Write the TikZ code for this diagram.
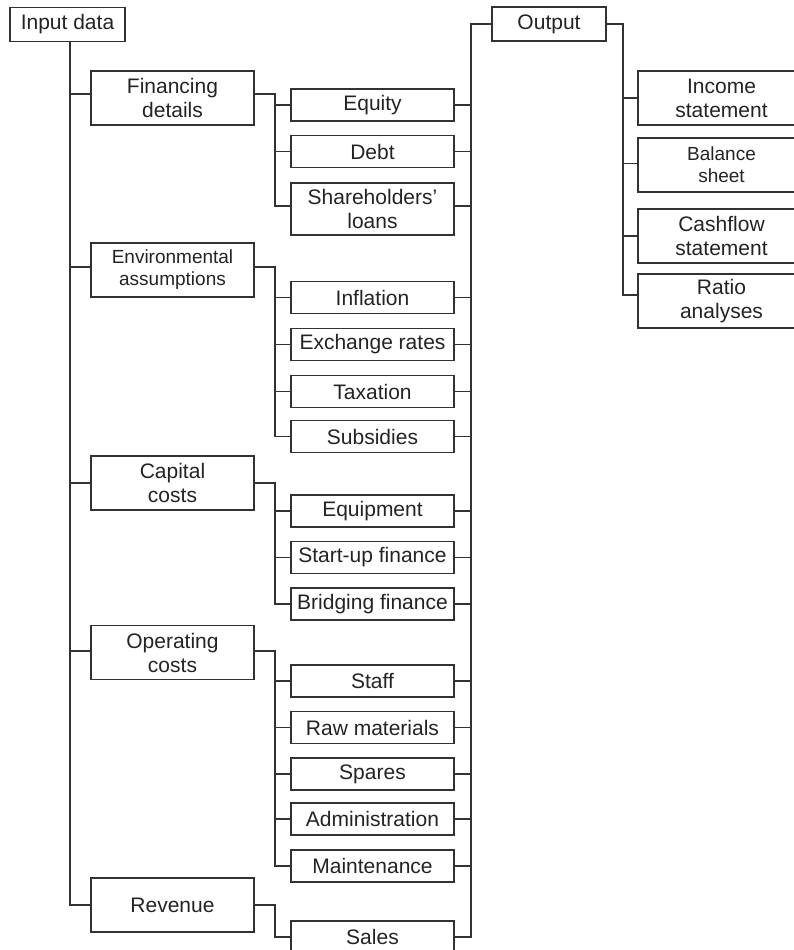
\documentclass[tikz,border=0pt]{standalone}
\usepackage{fontspec}
\setmainfont{Liberation Sans}
\definecolor{linec}{RGB}{50,50,50}
\definecolor{textc}{RGB}{35,35,35}
\newcommand\mainf{\fontsize{21}{24}\selectfont}
\newcommand\smf{\fontsize{19}{22}\selectfont}
\begin{document}
\begin{tikzpicture}[x=1pt,y=-1pt,
  box/.style={draw=linec, line width=1.35pt, minimum width=163pt, minimum height=32pt,
    inner sep=0pt, align=center, font=\mainf, text=textc},
  tall/.style={minimum height=54pt},
  conn/.style={draw=linec, line width=1.35pt}]
\useasboundingbox (0,0) rectangle (794,950);
\clip (0,0) rectangle (794,950);
% coordinates of the vertical rails
\coordinate (sp) at (70,0);
\coordinate (br) at (275,0);
\coordinate (rr) at (471,0);
\coordinate (oo) at (623,0);
% top nodes
\node[box, minimum width=115pt, minimum height=34pt] (input) at (67.5,24.5) {Input data};
\node[box, minimum width=114pt, minimum height=34pt] (out) at (549,24) {Output};
% level 1
\node[box, tall] (fin) at (172.5,98) {Financing\\details};
\node[box, tall, font=\smf] (env) at (172.5,270) {Environmental\\assumptions};
\node[box, tall] (cap) at (172.5,483) {Capital\\costs};
\node[box, tall] (ope) at (172.5,652.5) {Operating\\costs};
\node[box, tall] (rev) at (172.5,905) {Revenue};
% level 2
\node[box] (equ) at (372.5,105) {Equity};
\node[box] (debt) at (372.5,151.5) {Debt};
\node[box, minimum height=52pt] (share) at (372.5,209) {Shareholders'\\loans};
\node[box] (inf) at (372.5,297.5) {Inflation};
\node[box] (exc) at (372.5,344.5) {Exchange rates};
\node[box] (tax) at (372.5,391.5) {Taxation};
\node[box] (sub) at (372.5,436.5) {Subsidies};
\node[box] (eqp) at (372.5,511) {Equipment};
\node[box] (stu) at (372.5,557.5) {Start-up finance};
\node[box] (bri) at (372.5,604) {Bridging finance};
\node[box] (sta) at (372.5,681) {Staff};
\node[box] (raw) at (372.5,727.5) {Raw materials};
\node[box] (spa) at (372.5,774) {Spares};
\node[box] (adm) at (372.5,819) {Administration};
\node[box] (mai) at (372.5,866) {Maintenance};
\node[box] (sal) at (372.5,937) {Sales};
% output children
\node[box, tall, minimum width=167pt] (inc) at (721.5,98) {Income\\statement};
\node[box, tall, minimum width=167pt, font=\smf] (bal) at (721.5,165) {Balance\\sheet};
\node[box, tall, minimum width=167pt] (cas) at (721.5,236) {Cashflow\\statement};
\node[box, tall, minimum width=167pt] (rat) at (721.5,301) {Ratio\\analyses};
% connection points of the taller boxes (slightly above their centres)
\coordinate (finW) at ([yshift=4pt]fin.west);
\coordinate (finE) at ([yshift=4pt]fin.east);
\coordinate (envW) at ([yshift=3pt]env.west);
\coordinate (envE) at ([yshift=3pt]env.east);
\coordinate (opeW) at ([yshift=1.5pt]ope.west);
\coordinate (opeE) at ([yshift=1.5pt]ope.east);
\coordinate (shareW) at ([yshift=3pt]share.west);
\coordinate (shareE) at ([yshift=3pt]share.east);
\coordinate (balW) at ([yshift=1.7pt]bal.west);
\coordinate (ratW) at ([yshift=6pt]rat.west);
% input spine
\draw[conn] (input.south -| sp) -- (sp |- rev.west) -- (rev.west);
\draw[conn] (sp |- finW) -- (finW);
\draw[conn] (sp |- envW) -- (envW);
\draw[conn] (sp |- cap.west) -- (cap.west);
\draw[conn] (sp |- opeW) -- (opeW);
% branches
\draw[conn] (finE) -- (br |- finE) -- (br |- shareW) -- (shareW);
\foreach \n in {equ,debt} \draw[conn] (br |- \n.west) -- (\n.west);
\draw[conn] (envE) -- (br |- envE) -- (br |- sub.west) -- (sub.west);
\foreach \n in {inf,exc,tax} \draw[conn] (br |- \n.west) -- (\n.west);
\draw[conn] (cap.east) -- (br |- cap.east) -- (br |- bri.west) -- (bri.west);
\foreach \n in {eqp,stu} \draw[conn] (br |- \n.west) -- (\n.west);
\draw[conn] (opeE) -- (br |- opeE) -- (br |- mai.west) -- (mai.west);
\foreach \n in {sta,raw,spa,adm} \draw[conn] (br |- \n.west) -- (\n.west);
\draw[conn] (rev.east) -- (br |- rev.east) -- (br |- sal.west) -- (sal.west);
% right rail to output
\draw[conn] (out.west) -- (rr |- out.west) -- (rr |- sal.east) -- (sal.east);
\draw[conn] (shareE) -- (rr |- shareE);
\foreach \n in {equ,debt,inf,exc,tax,sub,eqp,stu,bri,sta,raw,spa,adm,mai}
  \draw[conn] (\n.east) -- (rr |- \n.east);
% output rail
\draw[conn] (out.east) -- (oo |- out.east) -- (oo |- ratW) -- (ratW);
\draw[conn] (oo |- balW) -- (balW);
\foreach \n in {inc,cas} \draw[conn] (oo |- \n.west) -- (\n.west);
\end{tikzpicture}
\end{document}
